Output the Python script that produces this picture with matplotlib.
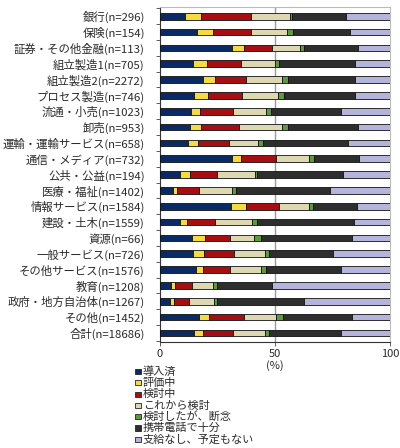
import matplotlib
matplotlib.use("Agg")
import matplotlib.pyplot as plt
import numpy as np
from matplotlib.patches import Rectangle

plt.rcParams['font.family'] = ['Noto Sans CJK JP', 'DejaVu Sans']

categories = ["銀行(n=296)", "保険(n=154)", "証券・その他金融(n=113)", "組立製造1(n=705)",
              "組立製造2(n=2272)", "プロセス製造(n=746)", "流通・小売(n=1023)", "卸売(n=953)",
              "運輸・運輸サービス(n=658)", "通信・メディア(n=732)", "公共・公益(n=194)",
              "医療・福祉(n=1402)", "情報サービス(n=1584)", "建設・土木(n=1559)", "資源(n=66)",
              "一般サービス(n=726)", "その他サービス(n=1576)", "教育(n=1208)",
              "政府・地方自治体(n=1267)", "その他(n=1452)", "合計(n=18686)"]

series_names = ["導入済", "評価中", "検討中", "これから検討", "検討したが、断念", "携帯電話で十分", "支給なし、予定もない"]

# cumulative boundaries (percent)
cum = np.array([
    [10.9, 17.7, 39.6, 56.5, 57.2, 80.9],
    [15.9, 22.9, 39.6, 55.4, 58.0, 82.6],
    [31.2, 36.5, 48.7, 60.9, 62.6, 86.1],
    [14.5, 20.4, 35.1, 49.9, 51.9, 84.6],
    [18.6, 23.8, 37.5, 53.2, 55.5, 84.6],
    [14.9, 20.7, 35.8, 51.4, 54.1, 84.6],
    [13.5, 17.4, 31.6, 46.1, 48.3, 78.6],
    [13.0, 17.8, 34.5, 52.9, 55.7, 86.1],
    [12.2, 16.4, 30.0, 42.6, 44.9, 81.6],
    [31.3, 35.1, 50.4, 64.9, 67.0, 86.5],
    [8.8, 13.2, 24.8, 41.2, 42.3, 79.4],
    [5.5, 7.2, 17.1, 31.4, 33.0, 73.9],
    [30.9, 37.2, 51.6, 64.9, 66.7, 85.7],
    [8.6, 11.7, 24.1, 40.1, 42.3, 84.3],
    [13.9, 19.7, 30.3, 41.0, 43.9, 83.3],
    [14.3, 19.0, 32.3, 45.8, 47.2, 75.1],
    [15.7, 18.6, 30.4, 43.9, 46.1, 78.7],
    [4.6, 6.4, 13.9, 23.2, 24.9, 48.6],
    [4.3, 6.1, 12.5, 23.6, 24.9, 62.6],
    [17.0, 21.3, 36.5, 50.4, 53.6, 83.3],
    [14.6, 18.7, 31.6, 45.8, 47.5, 78.7],
])
full = np.hstack([np.zeros((len(cum), 1)), cum, np.full((len(cum), 1), 100.0)])
values = np.diff(full, axis=1)

colors = ["#0a2a66", "#f5dc3c", "#a80d12", "#ddd8b2", "#5c9a3c", "#2e2e2e", "#b4b4dc"]

W, H = 400, 448
fig = plt.figure(figsize=(W / 100, H / 100), dpi=100)
ax = fig.add_axes([0.4, 0.2366, 0.575, 0.7474])

y = np.arange(len(categories))
left = np.zeros(len(categories))
for i, name in enumerate(series_names):
    ax.barh(y, values[:, i], left=left, height=0.42, color=colors[i],
            edgecolor="#111111", linewidth=0.6, label=name, zorder=3)
    left += values[:, i]

ax.set_xlim(0, 100)
ax.set_ylim(len(categories) - 0.43, -0.57)
ax.set_yticks(y)
ax.set_yticklabels(categories, fontsize=8.2, color="#2a2a2a")
ax.tick_params(axis='y', length=0, pad=11)
ax.set_yticks(np.arange(-0.5, len(categories) + 0.5, 1), minor=True)
ax.tick_params(axis='y', which='minor', length=3, width=0.6, color="#444444")
ax.set_xticks([0, 50, 100])
ax.set_xticklabels(["0", "50", "100"], fontsize=8, color="#2a2a2a")
ax.tick_params(axis='x', length=3, width=0.6, color="#444444", pad=2)
ax.axvline(50, color="#999999", linewidth=1.0, zorder=1)

for s in ["top", "right"]:
    ax.spines[s].set_color("#bbbbbb")
    ax.spines[s].set_linewidth(0.8)
ax.spines["left"].set_color("#333333")
ax.spines["bottom"].set_color("#333333")
ax.spines["left"].set_linewidth(0.8)
ax.spines["bottom"].set_linewidth(0.8)

fig.text(0.6875, 1 - 366 / H, "(%)", fontsize=8, ha="center", va="center", color="#2a2a2a")

# legend (manual layout, one entry per row)
for i, (name, c) in enumerate(zip(series_names, colors)):
    yc = 371.5 + i * 11.3
    fig.add_artist(Rectangle((135 / W, 1 - (yc + 2.6) / H), 5.5 / W, 5.2 / H,
                             transform=fig.transFigure, facecolor=c,
                             edgecolor="#222222", linewidth=0.6))
    fig.text(143 / W, 1 - yc / H, name, fontsize=8, ha="left", va="center", color="#2a2a2a")

fig.savefig("out.png", dpi=100)
